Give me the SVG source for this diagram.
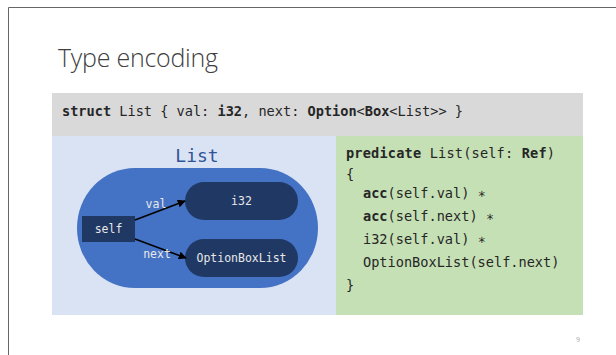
<svg xmlns="http://www.w3.org/2000/svg" width="616" height="355" viewBox="0 0 616 355">
<defs>
<style>
.mono{font-family:"DejaVu Sans Mono","Liberation Mono",monospace;}
.code{font-family:"DejaVu Sans Mono","Liberation Mono",monospace;font-size:13.6px;fill:#262626;}
.b{font-weight:bold;}
.node{fill:#203864;}
.ntext{font-family:"DejaVu Sans Mono","Liberation Mono",monospace;font-size:11.5px;fill:#E8E8E8;text-anchor:middle;}
.edge{stroke:#000;stroke-width:1.6;fill:none;marker-end:url(#ah);}
</style>
<marker id="ah" viewBox="0 0 10 10" refX="9" refY="5" markerWidth="5" markerHeight="5" orient="auto">
<path d="M0,0 L10,5 L0,10 z" fill="#000"/>
</marker>
</defs>
<rect width="616" height="355" fill="#fff"/>
<path d="M8.5,360 V7.5 H620" fill="none" stroke="#666" stroke-width="1"/>
<text x="58" y="67" style="font-family:'Open Sans','Lato',sans-serif;font-size:25px;fill:#404040;font-weight:300" textLength="160">Type encoding</text>
<g id="struct">
<rect x="52" y="93" width="531" height="43" fill="#D9D9D9"/>
<text x="62" y="116" class="code" textLength="401"><tspan class="b">struct</tspan> List { val: <tspan class="b">i32</tspan>, next: <tspan class="b">Option</tspan>&lt;<tspan class="b">Box</tspan>&lt;List&gt;&gt; }</text>
</g>
<rect x="52" y="136" width="284" height="179" fill="#DAE3F3"/>
<rect x="336" y="136" width="247" height="179" fill="#C5E0B4"/>
<g id="list">
<text x="197" y="162" class="mono" style="font-size:18px;fill:#2F5597;text-anchor:middle">List</text>
<rect x="77" y="168" width="241" height="120" rx="58" ry="60" fill="#4472C4"/>
</g>
<g id="self">
<rect x="82" y="216" width="53" height="26" class="node"/>
<text x="108.5" y="233" class="ntext">self</text>
</g>
<g id="i32">
<rect x="185" y="182" width="113" height="38" rx="19" class="node"/>
<text x="241.5" y="205" class="ntext">i32</text>
</g>
<g id="optionboxlist">
<rect x="185" y="239" width="113" height="38" rx="19" class="node"/>
<text x="241.5" y="262" class="ntext">OptionBoxList</text>
</g>
<g id="connectors">
<line x1="135" y1="220" x2="185" y2="201" class="edge"/>
<line x1="135" y1="239" x2="186" y2="258" class="edge"/>
<text x="156" y="208" class="ntext">val</text>
<text x="157" y="258" class="ntext">next</text>
</g>
<g id="predicate" class="code">
<text x="346" y="158" class="code" textLength="209"><tspan class="b">predicate</tspan> List(self: <tspan class="b">Ref</tspan>)</text>
<text x="346" y="179" class="code">{</text>
<text x="363" y="198" class="code"><tspan class="b">acc</tspan>(self.val) ∗</text>
<text x="363" y="221" class="code"><tspan class="b">acc</tspan>(self.next) ∗</text>
<text x="363" y="244" class="code">i32(self.val) ∗</text>
<text x="363" y="267" class="code">OptionBoxList(self.next)</text>
<text x="346" y="290" class="code">}</text>
</g>
<text x="576" y="342" style="font-family:'Open Sans',sans-serif;font-size:7px;fill:#A6A6A6">9</text>
</svg>
